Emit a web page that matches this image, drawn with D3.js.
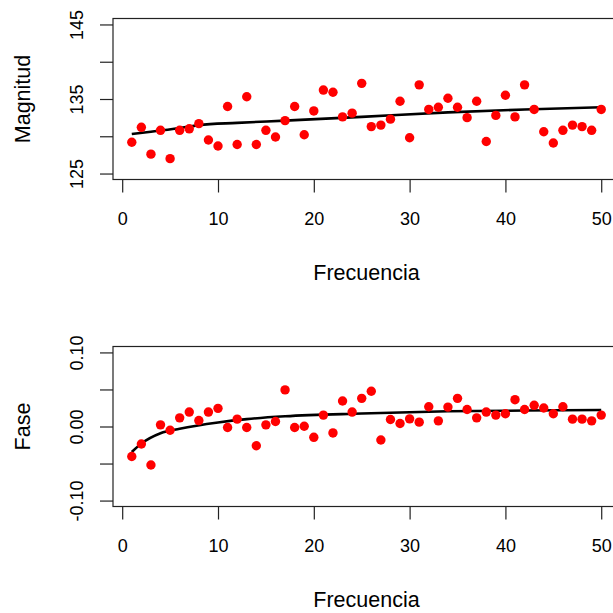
<!DOCTYPE html>
<html>
<head>
<meta charset="utf-8">
<script src="https://cdn.jsdelivr.net/npm/d3@7"></script>
<style>
  html, body { margin: 0; padding: 0; background: #fff; }
  svg { display: block; }
  text { font-family: "Liberation Sans", Arial, sans-serif; fill: #000; }
</style>
</head>
<body>
<svg id="chart" width="613" height="613"></svg>
<script>
// ---- Data ----
const frecuencia = d3.range(1, 51);

const magnitud = [
  129.2, 131.2, 127.6, 130.8, 127.0, 130.8, 131.0, 131.7, 129.5, 128.7,
  134.0, 128.9, 135.3, 128.9, 130.8, 129.9, 132.1, 134.0, 130.2, 133.4,
  136.2, 135.9, 132.6, 133.1, 137.1, 131.3, 131.5, 132.3, 134.7, 129.8,
  136.9, 133.6, 133.9, 135.1, 133.9, 132.5, 134.7, 129.3, 132.8, 135.5,
  132.6, 136.9, 133.6, 130.6, 129.1, 130.8, 131.5, 131.3, 130.8, 133.6
];

const fase = [
  -0.0405, -0.0236, -0.0520, 0.0022, -0.0050, 0.0117, 0.0195, 0.0080, 0.0195, 0.0245,
  -0.0014, 0.0099, -0.0014, -0.0260, 0.0022, 0.0068, 0.0494, -0.0014, 0.0004, -0.0146,
  0.0154, -0.0087, 0.0344, 0.0195, 0.0380, 0.0476, -0.0182, 0.0095, 0.0041, 0.0103,
  0.0059, 0.0267, 0.0076, 0.0262, 0.0380, 0.0230, 0.0117, 0.0195, 0.0154, 0.0172,
  0.0362, 0.0230, 0.0286, 0.0250, 0.0172, 0.0267, 0.0099, 0.0099, 0.0076, 0.0154
];

// fitted curves, read at a few frequencies
const ajusteMagX = [1, 3, 6, 8, 12, 17, 25, 34, 42, 50];
const ajusteMagY = [130.3, 130.6, 131.1, 131.5, 131.8, 132.1, 132.6, 133.2, 133.6, 133.9];

const ajusteFaseX = [1, 2, 4, 6, 10, 13, 17, 25, 34, 42, 50];
const ajusteFaseY = [-0.0345, -0.023, -0.009, -0.003, 0.0055, 0.010, 0.0138, 0.0175, 0.0205, 0.0215, 0.0222];

const xTicks = [0, 10, 20, 30, 40, 50];
const magTicks = [125, 130, 135, 140, 145];
const magTickLabels = ["125", "", "135", "", "145"];
const faseTicks = [-0.10, -0.05, 0.00, 0.05, 0.10];
const faseTickLabels = ["-0.10", "", "0.00", "", "0.10"];

// ---- Drawing ----
const svg = d3.select("#chart");
const FONT = "'Liberation Sans', Arial, sans-serif";

function panel(opts) {
  const { top, bottom, ydomain, yvals, yticks, ylabels, ylabel, fitX, fitY } = opts;
  const left = 113, right = 620;
  const x = d3.scaleLinear().domain([-0.96, 51.96]).range([left, right]);
  const y = d3.scaleLinear().domain(ydomain).range([bottom, top]);
  const g = svg.append("g");

  // box
  g.append("rect")
    .attr("x", left).attr("y", top)
    .attr("width", right - left).attr("height", bottom - top)
    .attr("fill", "none").attr("stroke", "#222").attr("stroke-width", 1.2);

  // x axis
  const xa = g.append("g").attr("transform", `translate(0,${bottom})`)
    .call(d3.axisBottom(x).tickValues(xTicks).tickSize(13).tickFormat(d3.format("d")))
    .attr("font-size", 18).attr("font-family", FONT);
  xa.select(".domain").remove();
  xa.selectAll(".tick line").attr("stroke", "#222").attr("stroke-width", 1.2);
  xa.selectAll(".tick text").attr("y", 45).attr("dy", null)
    .attr("font-size", 18).attr("fill", "#000");

  // y axis
  const ya = g.append("g").attr("transform", `translate(${left},0)`)
    .call(d3.axisLeft(y).tickValues(yticks).tickSize(13).tickFormat((d, i) => ylabels[i]))
    .attr("font-size", 18).attr("font-family", FONT);
  ya.select(".domain").remove();
  ya.selectAll(".tick line").attr("stroke", "#222").attr("stroke-width", 1.2);
  ya.selectAll(".tick text")
    .attr("x", 0).attr("y", -30).attr("dy", null)
    .attr("transform", "rotate(-90)")
    .attr("text-anchor", "middle")
    .attr("font-size", 18).attr("fill", "#000");

  // axis titles
  g.append("text")
    .attr("x", (left + right) / 2).attr("y", bottom + 100.5)
    .attr("text-anchor", "middle").attr("font-size", 21.5)
    .text("Frecuencia");
  g.append("text")
    .attr("transform", `translate(30,${(top + bottom) / 2}) rotate(-90)`)
    .attr("text-anchor", "middle").attr("font-size", 21.5)
    .text(ylabel);

  // fitted line
  const line = d3.line().x(d => x(d[0])).y(d => y(d[1])).curve(d3.curveMonotoneX);
  g.append("path")
    .datum(d3.zip(fitX, fitY))
    .attr("d", line)
    .attr("fill", "none").attr("stroke", "#000").attr("stroke-width", 2.6);

  // points
  g.selectAll("circle.pt").data(d3.zip(frecuencia, yvals)).enter()
    .append("circle").attr("class", "pt")
    .attr("cx", d => x(d[0])).attr("cy", d => y(d[1]))
    .attr("r", 4.7).attr("fill", "#ff0000");
}

panel({
  top: 18.5, bottom: 179.5, ydomain: [124.2, 145.8],
  yvals: magnitud, yticks: magTicks, ylabels: magTickLabels,
  ylabel: "Magnitud", fitX: ajusteMagX, fitY: ajusteMagY
});

panel({
  top: 346.5, bottom: 506.5, ydomain: [-0.108, 0.108],
  yvals: fase, yticks: faseTicks, ylabels: faseTickLabels,
  ylabel: "Fase", fitX: ajusteFaseX, fitY: ajusteFaseY
});
</script>
</body>
</html>
